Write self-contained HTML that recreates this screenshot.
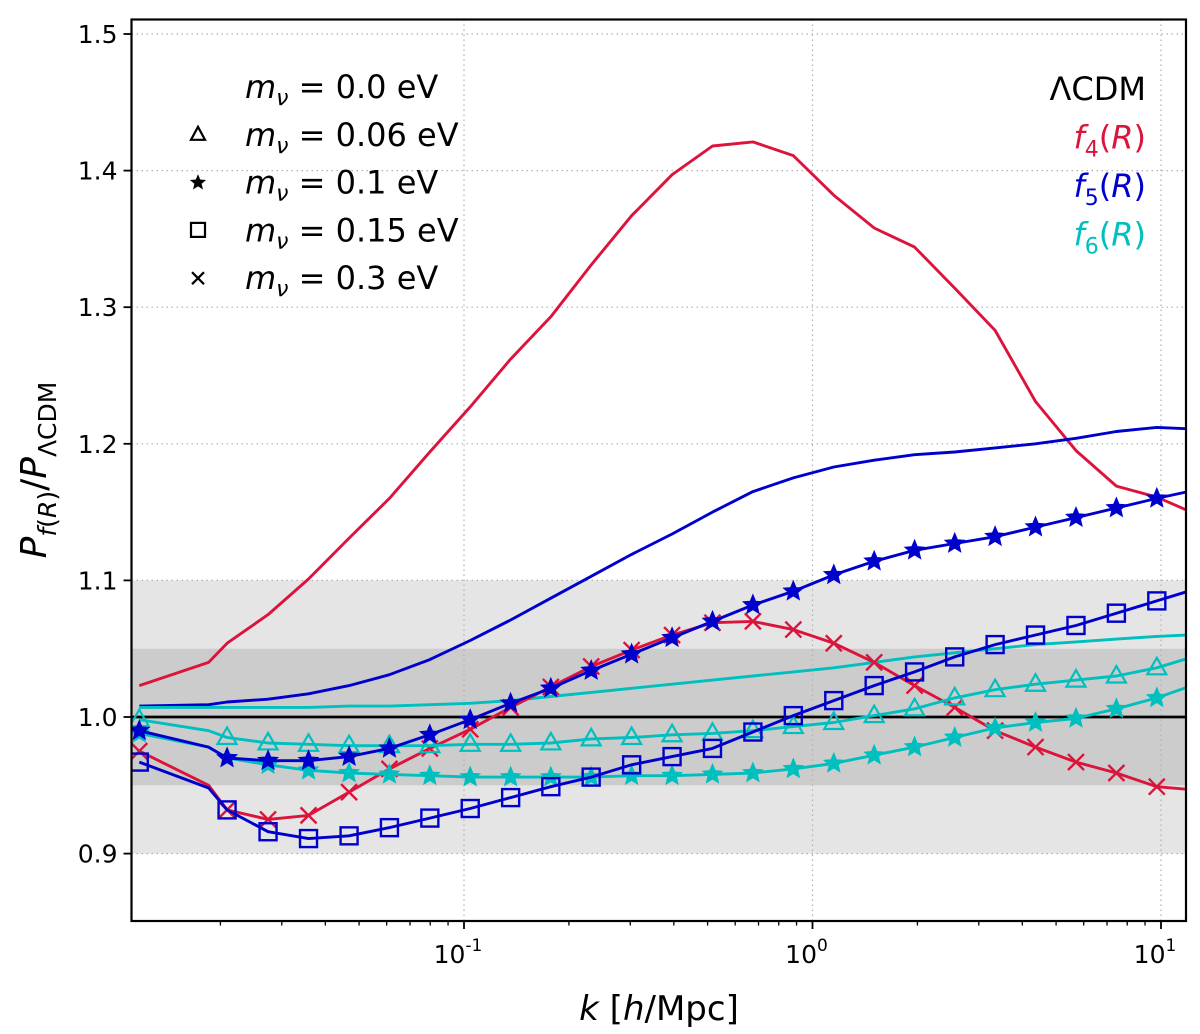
<!DOCTYPE html>
<html><head><meta charset="utf-8">
<style>
html,body{margin:0;padding:0;background:#fff;}
svg{display:block;font-family:"DejaVu Sans","Liberation Sans",sans-serif;}
</style></head>
<body>
<svg id="chart" width="1200" height="1034" viewBox="0 0 1200 1034" xmlns="http://www.w3.org/2000/svg"></svg>
<script>
// ---- data ----
const kValues = [0.0117,0.0185,0.0209,0.0274,0.0358,0.0468,0.0611,0.0798,0.1042,0.1361,0.1775,0.2317,0.3027,0.3954,0.5164,0.6745,0.8810,1.151,1.503,1.963,2.559,3.342,4.365,5.702,7.447,9.727,11.96];
const markerIdx = [0,2,3,4,5,6,7,8,9,10,11,12,13,14,15,16,17,18,19,20,21,22,23,24,25];
const f4_m0   = [1.023,1.040,1.054,1.075,1.101,1.131,1.160,1.194,1.227,1.262,1.293,1.331,1.367,1.397,1.418,1.421,1.411,1.382,1.358,1.344,1.314,1.283,1.231,1.195,1.169,1.161,1.151];
const f5_m0   = [1.008,1.009,1.011,1.013,1.017,1.023,1.031,1.042,1.056,1.071,1.087,1.103,1.119,1.134,1.150,1.165,1.175,1.183,1.188,1.192,1.194,1.197,1.200,1.204,1.209,1.212,1.211];
const f6_m0   = [1.007,1.007,1.007,1.007,1.007,1.008,1.008,1.009,1.010,1.012,1.015,1.018,1.021,1.024,1.027,1.030,1.033,1.036,1.040,1.044,1.047,1.050,1.053,1.055,1.057,1.059,1.060];
const f4_m03  = [0.975,0.950,0.932,0.925,0.928,0.945,0.962,0.977,0.991,1.007,1.022,1.037,1.049,1.060,1.069,1.070,1.064,1.054,1.040,1.023,1.007,0.990,0.978,0.967,0.959,0.949,0.947];
const f5_m01  = [0.990,0.978,0.970,0.968,0.968,0.971,0.977,0.987,0.998,1.010,1.021,1.034,1.046,1.058,1.070,1.082,1.092,1.104,1.114,1.122,1.127,1.132,1.139,1.146,1.153,1.160,1.165];
const f5_m015 = [0.967,0.948,0.932,0.916,0.911,0.913,0.919,0.926,0.933,0.941,0.949,0.956,0.965,0.971,0.977,0.989,1.001,1.012,1.023,1.033,1.044,1.053,1.060,1.067,1.076,1.085,1.092];
const f6_m006 = [0.998,0.990,0.985,0.981,0.980,0.979,0.979,0.979,0.980,0.980,0.981,0.984,0.985,0.987,0.988,0.990,0.993,0.996,1.001,1.006,1.014,1.020,1.024,1.027,1.030,1.036,1.043];
const f6_m01  = [0.988,0.978,0.970,0.965,0.961,0.959,0.958,0.957,0.956,0.956,0.956,0.956,0.957,0.957,0.958,0.959,0.962,0.966,0.972,0.978,0.985,0.992,0.996,0.999,1.006,1.014,1.022];
const yTicks = [0.9,1.0,1.1,1.2,1.3,1.4,1.5];
const xMajor = [-1,0,1];

// ---- axes ----
const L=131.5,R=1186,T=19.5,B=921;
const X = k => 812.5 + 348.5*Math.log10(k);
const Y = v => 717 - (v-1.0)*1366;
const NS="http://www.w3.org/2000/svg";
const svg=document.getElementById('chart');
function mk(tag,attrs,parent){const e=document.createElementNS(NS,tag);for(const a in attrs)e.setAttribute(a,attrs[a]);(parent||svg).appendChild(e);return e;}

const defs=mk('defs',{});
const cp=mk('clipPath',{id:'plotclip'},defs);
mk('rect',{x:L,y:T,width:R-L,height:B-T},cp);

let b1=mk('rect',{x:L,y:Y(1.1),width:R-L,height:Y(0.9)-Y(1.1),fill:'#e5e5e5'});


let b2=mk('rect',{x:L,y:Y(1.05),width:R-L,height:Y(0.95)-Y(1.05),fill:'#cccccc'});



const grid=mk('g',{stroke:'#b0b0b0','stroke-width':1.2,'stroke-dasharray':'1.5,3.5'});


yTicks.forEach(v=>mk('line',{x1:L,x2:R,y1:Y(v),y2:Y(v)},grid));
xMajor.forEach(p=>mk('line',{x1:X(Math.pow(10,p)),x2:X(Math.pow(10,p)),y1:T,y2:B},grid));

const plot=mk('g',{'clip-path':'url(#plotclip)'});


let lc=mk('line',{x1:L,x2:R,y1:Y(1),y2:Y(1),stroke:'#000','stroke-width':2.8},plot);



const RED='#dc143c',BLUE='#0000cd',CYAN='#00bfbf';
function star(cx,cy,r){let p='';for(let i=0;i<10;i++){const a=-Math.PI/2+i*Math.PI/5;const rr=i%2?r*0.45:r;p+=(i?'L':'M')+(cx+rr*Math.cos(a)).toFixed(1)+','+(cy+rr*Math.sin(a)).toFixed(1);}return p+'Z';}
function marker(g,type,cx,cy,color){
  let e;
  if(type==='tri'){e=mk('path',{d:`M${cx},${cy-10}L${cx+9.5},${cy+6.5}L${cx-9.5},${cy+6.5}Z`,fill:'none',stroke:color,'stroke-width':2.2},g);}
  else if(type==='sq'){e=mk('rect',{x:cx-8.5,y:cy-8.5,width:17,height:17,fill:'none',stroke:color,'stroke-width':2.4},g);}
  else if(type==='star'){e=mk('path',{d:star(cx,cy,10),fill:color,stroke:color,'stroke-width':1.2},g);}
  else if(type==='x'){e=mk('path',{d:`M${cx-8},${cy-8}L${cx+8},${cy+8}M${cx-8},${cy+8}L${cx+8},${cy-8}`,stroke:color,'stroke-width':2.4},g);}
  
  
}
function series(name,vals,color,mtype){
  const g=mk('g',{},plot);
  
  
  const d=vals.map((v,i)=>(i?'L':'M')+X(kValues[i]).toFixed(1)+','+Y(v).toFixed(1)).join('');
  mk('path',{d:d,fill:'none',stroke:color,'stroke-width':2.9,'stroke-linejoin':'round'},g);
  if(mtype) markerIdx.forEach(i=>marker(g,mtype,X(kValues[i]),Y(vals[i]),color));
}
series('f4-m0-line',f4_m0,RED,null);
series('f5-m0-line',f5_m0,BLUE,null);
series('f6-m0-line',f6_m0,CYAN,null);
series('f4-m03-line',f4_m03,RED,'x');
series('f6-m006-line',f6_m006,CYAN,'tri');
series('f6-m01-line',f6_m01,CYAN,'star');
series('f5-m015-line',f5_m015,BLUE,'sq');
series('f5-m01-line',f5_m01,BLUE,'star');

let fr=mk('rect',{x:L,y:T,width:R-L,height:B-T,fill:'none',stroke:'#000','stroke-width':2.2});



const yax=mk('g',{});


yTicks.forEach(v=>{
  mk('line',{x1:L-8,x2:L,y1:Y(v),y2:Y(v),stroke:'#000','stroke-width':1.8},yax);
  const t=mk('text',{x:L-14,y:Y(v)+9,'text-anchor':'end','font-size':25,fill:'#000'},yax);
  t.textContent=v.toFixed(1);
  
  
});
const xax=mk('g',{});


for(let p=-2;p<=1;p++){for(let m=1;m<10;m++){const k=m*Math.pow(10,p);const x=X(k);if(x<L||x>R)continue;
  mk('line',{x1:x,x2:x,y1:B,y2:B+(m===1?8:4.5),stroke:'#000','stroke-width':m===1?1.8:1.3},xax);}}
xMajor.forEach(p=>{
  const t=mk('text',{x:X(Math.pow(10,p))-6,y:B+42,'text-anchor':'middle','font-size':25,fill:'#000'},xax);
  
  
  t.textContent='10';
  const s=mk('tspan',{dy:-12,'font-size':17},t);s.textContent=String(p);
});

const xt=mk('text',{x:659,y:1020,'text-anchor':'middle','font-size':34,fill:'#000'});


xt.innerHTML='<tspan font-style="italic">k</tspan> [<tspan font-style="italic">h</tspan>/Mpc]';
const yt=mk('text',{x:0,y:0,'text-anchor':'middle','font-size':36,fill:'#000',transform:'translate(46,470) rotate(-90)'});


yt.innerHTML='<tspan font-style="italic">P</tspan><tspan font-size="25" dy="10" font-style="italic">f</tspan><tspan font-size="25">(</tspan><tspan font-size="25" font-style="italic">R</tspan><tspan font-size="25">)</tspan><tspan dy="-10">/</tspan><tspan font-style="italic">P</tspan><tspan font-size="25" dy="10">ΛCDM</tspan>';

const legL=mk('g',{});


const legMasses=['0.0','0.06','0.1','0.15','0.3'];
const legTypes=[null,'tri','star','sq','x'];
legMasses.forEach((m,i)=>{
  const cy=86+i*47.8;
  const g=mk('g',{},legL);
  
  
  if(legTypes[i]){
    const t=legTypes[i];
    if(t==='tri') mk('path',{d:`M198,${cy-7}L205,${cy+6}L191,${cy+6}Z`,fill:'none',stroke:'#000','stroke-width':2.2},g);
    if(t==='sq') mk('rect',{x:191,y:cy-6.5,width:14,height:14,fill:'none',stroke:'#000','stroke-width':2.2},g);
    if(t==='star') mk('path',{d:star(198,cy+1,8.5),fill:'#000'},g);
    if(t==='x') mk('path',{d:`M192,${cy-5}L204,${cy+7}M192,${cy+7}L204,${cy-5}`,stroke:'#000','stroke-width':2.2},g);
  }
  const tx=mk('text',{x:245,y:cy+12,'font-size':32,fill:'#000'},g);
  tx.innerHTML='<tspan font-style="italic">m</tspan><tspan font-style="italic" font-size="22" dy="7">ν</tspan><tspan dy="-7"> = '+m+' eV</tspan>';
});

const legR=mk('g',{});


const rl=[['ΛCDM','#000',null],['4',RED,1],['5',BLUE,1],['6',CYAN,1]];
rl.forEach((r,i)=>{
  const cy=88+i*48.5;
  const t=mk('text',{x:1146,y:cy+12,'text-anchor':'end','font-size':32,fill:r[1]},legR);
  
  
  if(!r[2]) t.textContent=r[0];
  else t.innerHTML='<tspan font-style="italic">f</tspan><tspan font-size="22" dy="8">'+r[0]+'</tspan><tspan dy="-8">(</tspan><tspan font-style="italic">R</tspan><tspan>)</tspan>';
});
</script>
</body></html>
